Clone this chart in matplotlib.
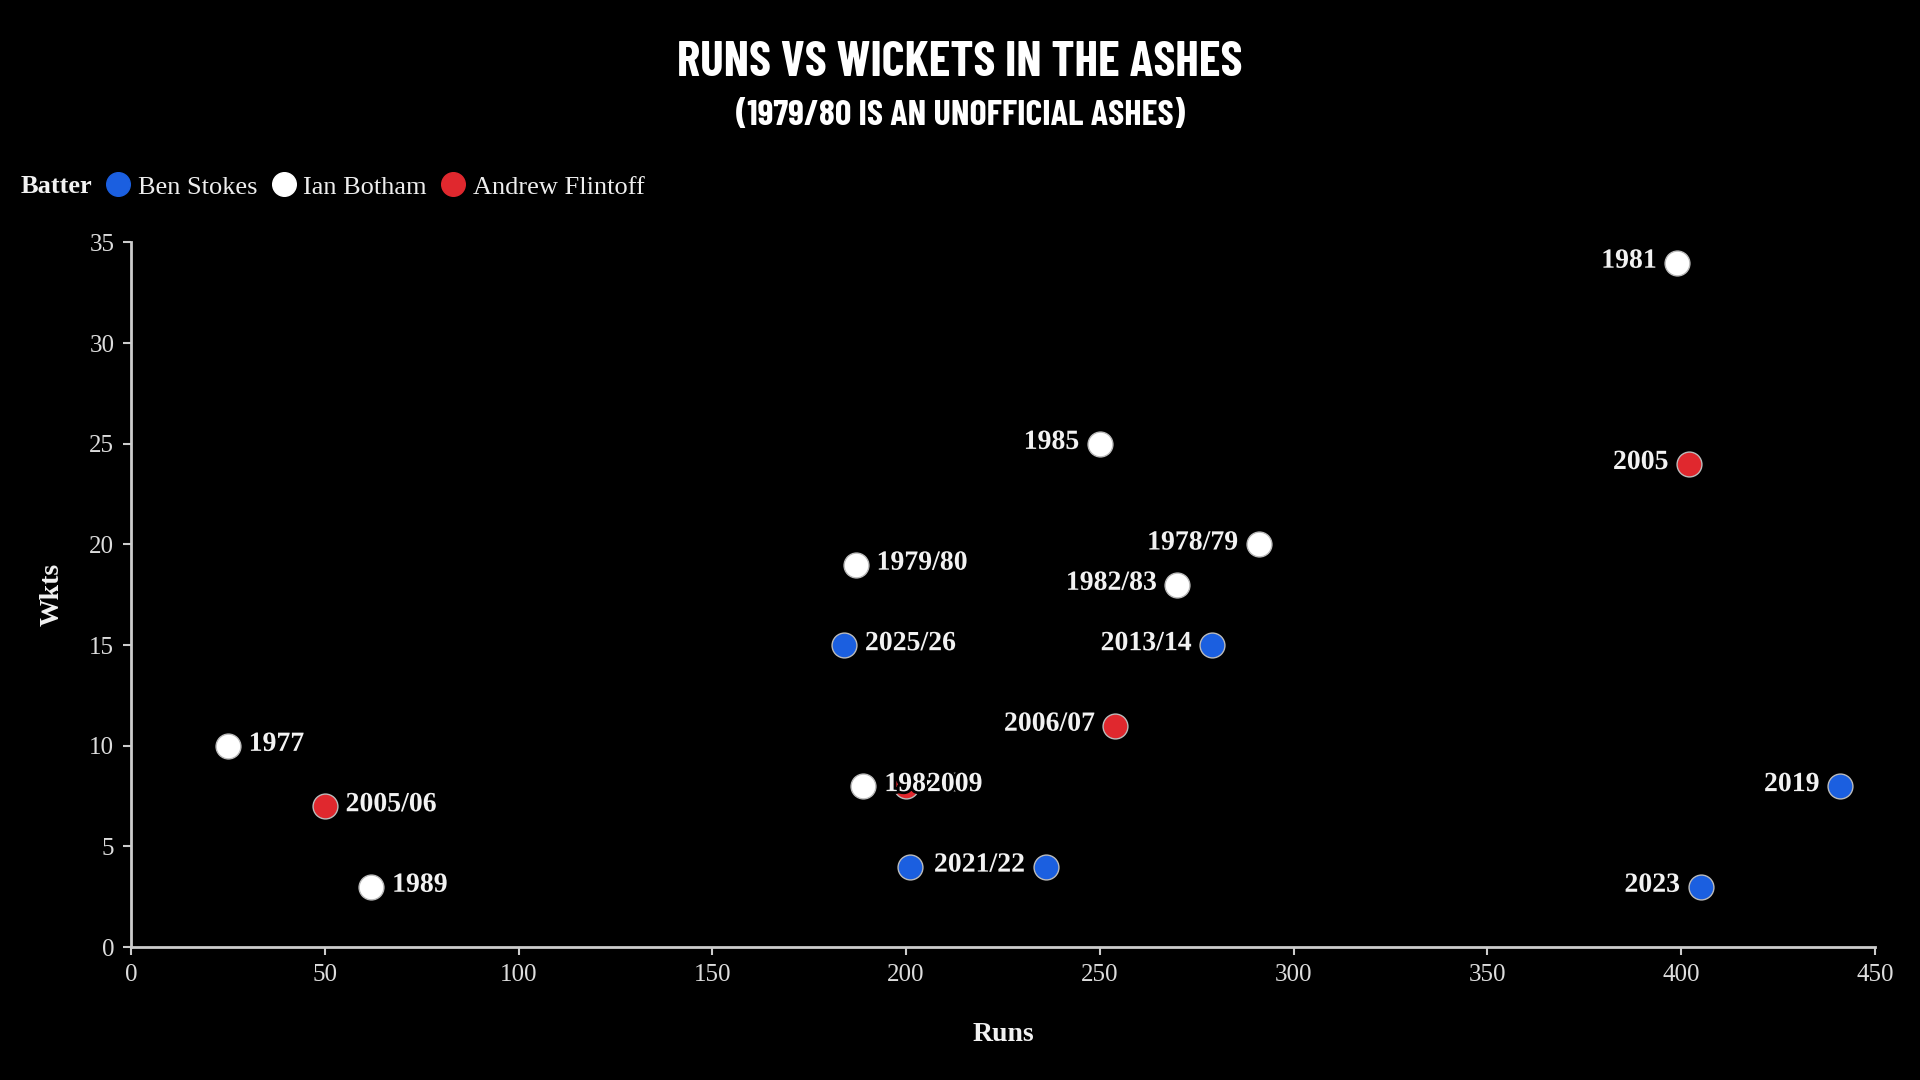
import matplotlib
matplotlib.use('Agg')
import matplotlib.pyplot as plt
import matplotlib.patheffects as pe
from matplotlib.lines import Line2D

plt.rcParams['font.family'] = ['Liberation Serif', 'DejaVu Serif']

batters = ['Ben Stokes', 'Ian Botham', 'Andrew Flintoff']
colours = {'Ben Stokes': '#1b5fe0', 'Ian Botham': '#ffffff', 'Andrew Flintoff': '#e0282e'}

# series
stokes_years = ['2013/14', '2015', '2019', '2021/22', '2023', '2025/26']
stokes_runs = [279, 201, 441, 236, 405, 184]
stokes_wkts = [15, 4, 8, 4, 3, 15]

botham_years = ['1977', '1978/79', '1979/80', '1981', '1982/83', '1985', '1986/87', '1989']
botham_runs = [25, 291, 187, 399, 270, 250, 189, 62]
botham_wkts = [10, 20, 19, 34, 18, 25, 8, 3]

flintoff_years = ['2005/06', '2005', '2006/07', '2009']
flintoff_runs = [50, 402, 254, 200]
flintoff_wkts = [7, 24, 11, 8]

hidden_labels = {'2015'}  # dropped by the label collision in the original

x_ticks = [0, 50, 100, 150, 200, 250, 300, 350, 400, 450]
y_ticks = [0, 5, 10, 15, 20, 25, 30, 35]

series = [
    ('Ben Stokes', stokes_years, stokes_runs, stokes_wkts),
    ('Ian Botham', botham_years, botham_runs, botham_wkts),
    ('Andrew Flintoff', flintoff_years, flintoff_runs, flintoff_wkts),
]

fig = plt.figure(figsize=(19.2, 10.8), dpi=100, facecolor='black')
ax = fig.add_axes([0.0682, 0.1231, 0.9084, 0.6524])
ax.set_facecolor('black')

for name, years, runs, wkts in series:
    ax.scatter(runs, wkts, s=320, color=colours[name], edgecolors='#bbbbbb',
               linewidths=1.0, zorder=3, clip_on=False)

halo = [pe.withStroke(linewidth=4, foreground='black')]
for name, years, runs, wkts in series:
    for yr, r, w in zip(years, runs, wkts):
        if yr in hidden_labels:
            continue
        if r > 225:
            ax.annotate(yr, (r, w), xytext=(-15, 1), textcoords='offset points',
                        ha='right', va='center', fontsize=20, fontweight='bold',
                        color='#f2f2f2', path_effects=halo, zorder=4)
        else:
            ax.annotate(yr, (r, w), xytext=(15, 1), textcoords='offset points',
                        ha='left', va='center', fontsize=20, fontweight='bold',
                        color='#f2f2f2', path_effects=halo, zorder=4)

ax.set_xlim(0, 450)
ax.set_ylim(0, 35)
ax.set_xticks(x_ticks)
ax.set_yticks(y_ticks)
for s in ['top', 'right']:
    ax.spines[s].set_visible(False)
for s in ['left', 'bottom']:
    ax.spines[s].set_color('#cccccc')
    ax.spines[s].set_linewidth(2)
ax.tick_params(colors='#cccccc', labelcolor='#dddddd', labelsize=18, length=6,
               width=1.5, pad=6)

ax.set_xlabel('Runs', fontsize=20, fontweight='bold', color='#f2f2f2', labelpad=26)
ax.set_ylabel('Wkts', fontsize=20, fontweight='bold', color='#f2f2f2', labelpad=18)

title_font = ['Barlow Condensed', 'DejaVu Sans']
fig.text(0.5, 0.942, 'RUNS VS WICKETS IN THE ASHES', ha='center', va='center',
         fontsize=35.5, fontweight='bold', color='white', family=title_font)
fig.text(0.5, 0.893, '(1979/80 IS AN UNOFFICIAL ASHES)', ha='center', va='center',
         fontsize=26, fontweight='bold', color='white', family=title_font)

fig.text(0.011, 0.827, 'Batter', ha='left', va='center', fontsize=19,
         fontweight='bold', color='#f2f2f2')
handles = [Line2D([], [], marker='o', linestyle='', markersize=17,
                  markerfacecolor=colours[b], markeredgecolor=colours[b]) for b in batters]
leg = fig.legend(handles, batters, loc='center left', bbox_to_anchor=(0.0545, 0.827),
                 ncol=3, frameon=False, fontsize=19, handletextpad=0.25,
                 columnspacing=0.5, handlelength=1.0, borderaxespad=0, borderpad=0)
for t in leg.get_texts():
    t.set_color('#eeeeee')

fig.savefig('out.png', dpi=100, facecolor='black')
